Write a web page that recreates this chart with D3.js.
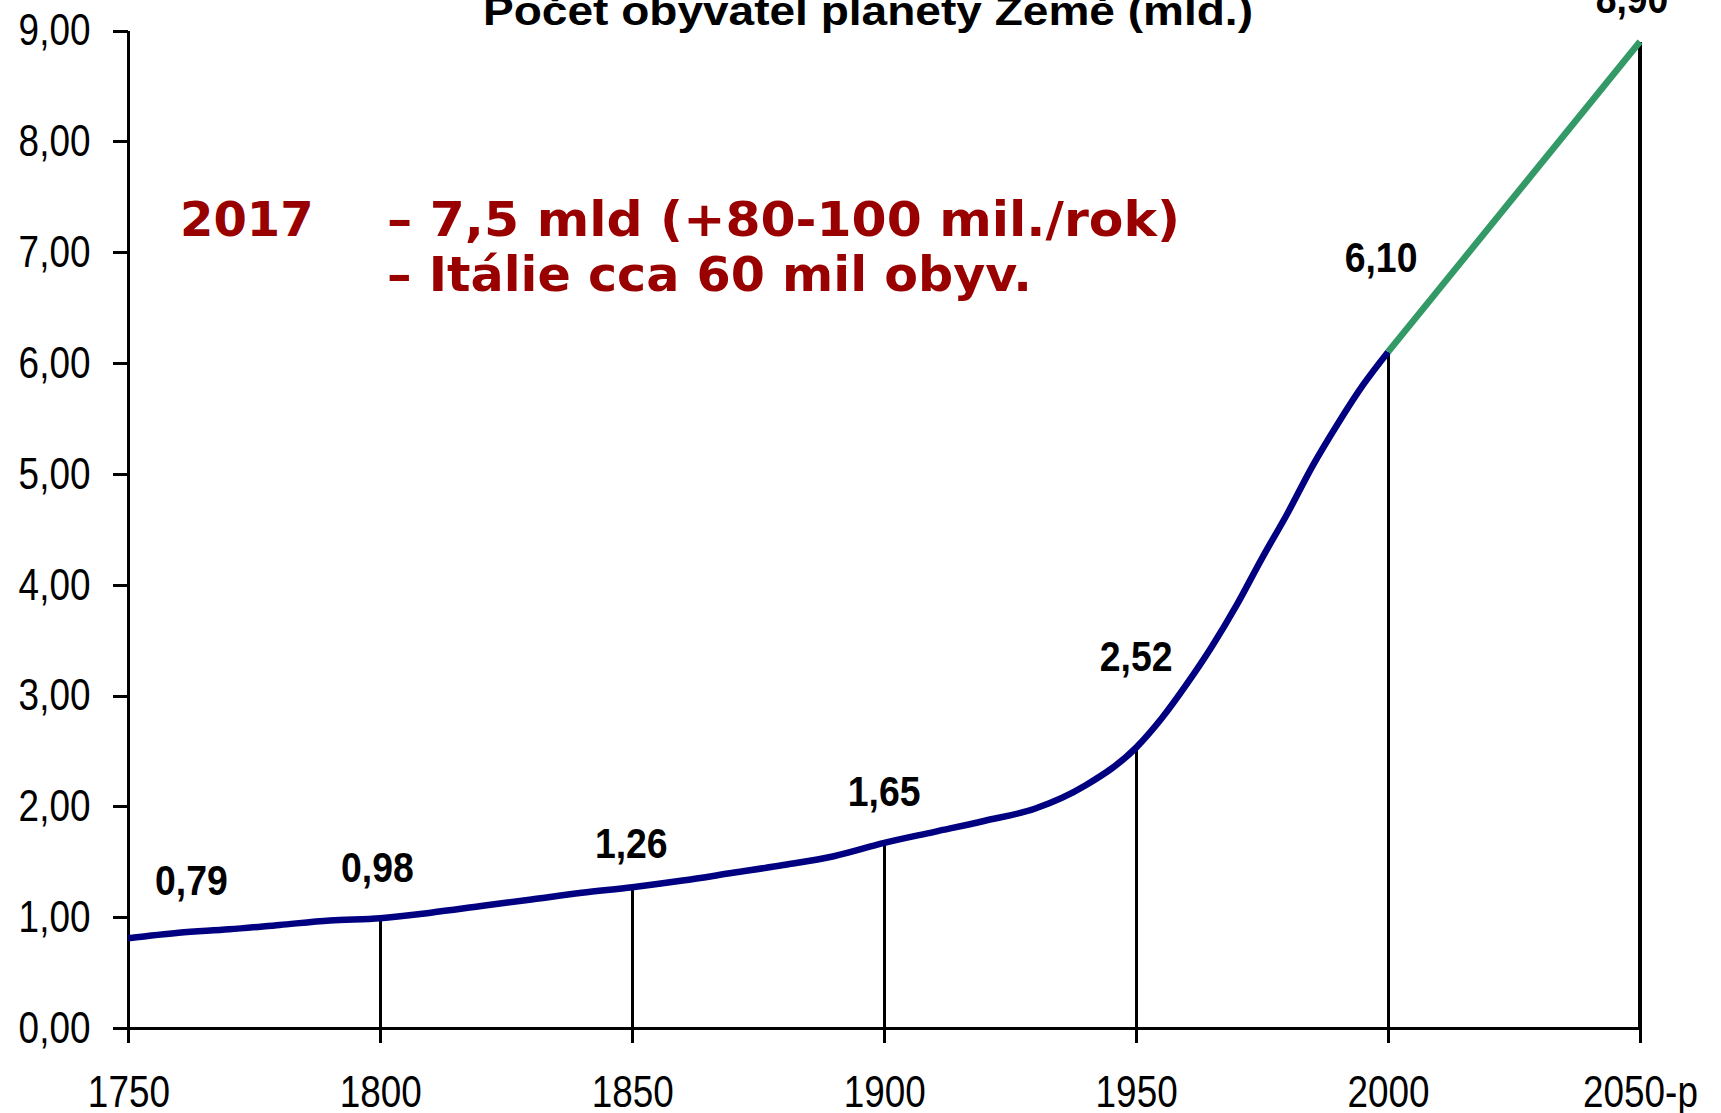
<!DOCTYPE html>
<html>
<head>
<meta charset="utf-8">
<script src="https://cdn.jsdelivr.net/npm/d3@7"></script>
<style>
  html, body { margin: 0; padding: 0; background: #fff; }
  svg { display: block; }
</style>
</head>
<body>
<div id="chart"></div>
<script>
// population of the planet (bn)
const years = [1750, 1760, 1770, 1780, 1790, 1800, 1810, 1820, 1830, 1840, 1850, 1860, 1870, 1880, 1890,
  1900, 1910, 1920, 1930, 1940, 1950, 1955, 1960, 1965, 1970, 1975, 1980, 1985, 1990, 1995, 2000];
const population = [0.81, 0.86, 0.89, 0.93, 0.97, 0.99, 1.04, 1.10, 1.16, 1.22, 1.27, 1.33, 1.40, 1.47, 1.55,
  1.67, 1.77, 1.87, 1.98, 2.19, 2.53, 2.79, 3.10, 3.44, 3.82, 4.24, 4.64, 5.07, 5.45, 5.80, 6.10];
const projYears = [2000, 2050];
const projPopulation = [6.10, 8.90];

const dropYears = [1800, 1850, 1900, 1950, 2000, 2050];

const labelYears = [1750, 1800, 1850, 1900, 1950, 2000, 2050];
const labelValues = [0.79, 0.98, 1.26, 1.65, 2.52, 6.10, 8.90];

const yTicks = [0, 1, 2, 3, 4, 5, 6, 7, 8, 9];
const xTicks = [1750, 1800, 1850, 1900, 1950, 2000, 2050];
const xTickLabels = ["1750", "1800", "1850", "1900", "1950", "2000", "2050-p"];

const title = "Počet obyvatel planety Země (mld.)";
const noteYear = "2017";
const noteLines = ["– 7,5 mld (+80-100 mil./rok)", "– Itálie cca 60 mil obyv."];

// hand placed nudges for the value labels (like the original text boxes)
const labelNudge = [[63, -45], [-3, -37], [-1, -30], [0, -39], [0, -78], [-7, -80], [-8, -29]];

const width = 1721;
const height = 1113;
const margin = { top: 30.5, right: 81, bottom: 85, left: 128.4 };

// no narrow face installed, so squeeze Liberation Sans sideways
const squeeze = 0.82;
const boldSqueeze = 0.89;

const svg = d3.select("#chart")
  .append("svg")
  .attr("width", width)
  .attr("height", height);

const x = d3.scaleLinear()
  .domain([1750, 2050])
  .range([margin.left, width - margin.right]);

const y = d3.scaleLinear()
  .domain([0, 9])
  .range([height - margin.bottom, margin.top]);

const cz = d3.formatLocale({ decimal: ",", thousands: " ", grouping: [3], currency: ["", " Kč"] });
const fmt = cz.format(".2f");

const sans = "'Liberation Sans', Arial, sans-serif";

// drop lines from the axis up to the curve
const valueAt = new Map(years.map((yr, i) => [yr, population[i]]));
projYears.forEach((yr, i) => valueAt.set(yr, projPopulation[i]));

svg.append("g")
  .selectAll("line")
  .data(dropYears)
  .join("line")
  .attr("x1", d => x(d))
  .attr("x2", d => x(d))
  .attr("y1", y(0))
  .attr("y2", d => y(valueAt.get(d)))
  .attr("stroke", "#000")
  .attr("stroke-width", d => d === 2050 ? 4 : 3)
  .attr("shape-rendering", "crispEdges");

// axes
const yAxis = svg.append("g")
  .attr("transform", `translate(${margin.left},0)`)
  .call(d3.axisLeft(y).tickValues(yTicks).tickSize(15).tickSizeOuter(0).tickPadding(23).tickFormat(fmt));

const xAxis = svg.append("g")
  .attr("transform", `translate(0,${y(0)})`)
  .call(d3.axisBottom(x).tickValues(xTicks).tickSize(15).tickSizeOuter(0).tickPadding(32)
    .tickFormat((d, i) => xTickLabels[i]));

[yAxis, xAxis].forEach(g => {
  g.select(".domain").attr("stroke", "#000").attr("stroke-width", 3).attr("shape-rendering", "crispEdges");
  g.selectAll(".tick line").attr("stroke", "#000").attr("stroke-width", 3).attr("shape-rendering", "crispEdges");
  g.selectAll(".tick text")
    .attr("fill", "#000")
    .style("font-family", sans)
    .style("font-size", "45px");
});

yAxis.selectAll(".tick text")
  .attr("x", -38 / squeeze)
  .attr("transform", `scale(${squeeze},1)`);
xAxis.selectAll(".tick text")
  .attr("transform", `scale(${squeeze},1)`);

// the curve
const line = d3.line()
  .x(d => x(d[0]))
  .y(d => y(d[1]))
  .curve(d3.curveMonotoneX);

svg.append("path")
  .datum(years.map((yr, i) => [yr, population[i]]))
  .attr("fill", "none")
  .attr("stroke", "#000080")
  .attr("stroke-width", 6.5)
  .attr("d", line);

svg.append("path")
  .datum(projYears.map((yr, i) => [yr, projPopulation[i]]))
  .attr("fill", "none")
  .attr("stroke", "#339966")
  .attr("stroke-width", 6.5)
  .attr("d", line);

// value labels
svg.append("g")
  .selectAll("text")
  .data(labelValues)
  .join("text")
  .attr("transform", (d, i) =>
    `translate(${x(labelYears[i]) + labelNudge[i][0]},${y(d) + labelNudge[i][1]}) scale(${boldSqueeze},1)`)
  .attr("text-anchor", "middle")
  .style("font-family", sans)
  .style("font-weight", "bold")
  .style("font-size", "42px")
  .text(d => fmt(d));

// title, its top is cut by the page edge as in the original
svg.append("text")
  .attr("x", 483)
  .attr("y", 24.5)
  .attr("textLength", 770)
  .attr("lengthAdjust", "spacingAndGlyphs")
  .style("font-family", sans)
  .style("font-weight", "bold")
  .style("font-size", "41px")
  .text(title);

// note in dark red
const note = svg.append("g")
  .style("font-family", "'DejaVu Sans', Verdana, sans-serif")
  .style("font-weight", "bold")
  .style("font-size", "48px")
  .attr("fill", "#990000");

note.append("text")
  .attr("x", 180)
  .attr("y", 236)
  .text(noteYear);

const noteWidths = [793, 645];
note.selectAll("text.line")
  .data(noteLines)
  .join("text")
  .attr("class", "line")
  .attr("x", 387)
  .attr("y", (d, i) => 236 + i * 54.5)
  .attr("textLength", (d, i) => noteWidths[i])
  .attr("lengthAdjust", "spacingAndGlyphs")
  .text(d => d);
</script>
</body>
</html>
